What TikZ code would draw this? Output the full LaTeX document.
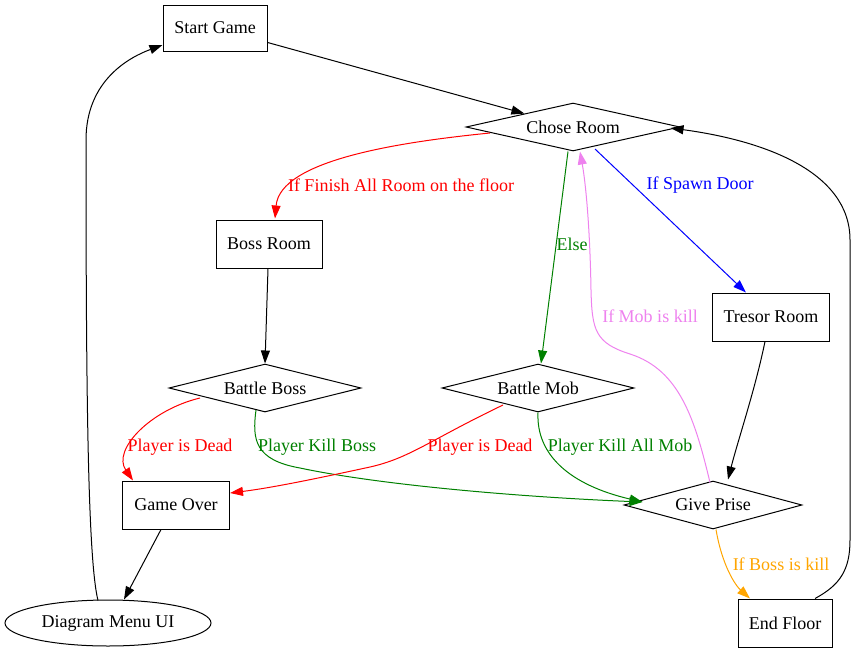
\documentclass[tikz,border=0pt]{standalone}
\usepackage{fontspec}
\setmainfont{Liberation Serif}
\usetikzlibrary{shapes.geometric,arrows.meta,calc}
\definecolor{gvgreen}{RGB}{0,128,0}
\definecolor{gvviolet}{RGB}{238,130,238}
\definecolor{gvorange}{RGB}{255,165,0}
\begin{document}
\begin{tikzpicture}[x=1pt,y=-1pt,
  every node/.style={font=\fontsize{18}{21}\selectfont},
  boxnode/.style={draw,line width=1pt,inner sep=0pt},
  dianode/.style={draw,line width=1pt,shape=diamond,inner sep=0pt,aspect=4.4},
  ellnode/.style={draw,line width=1pt,shape=ellipse,inner sep=0pt},
  edge/.style={line width=1pt,-{Triangle[length=13pt,width=9pt]}},
  lbl/.style={inner sep=1pt}]
\useasboundingbox (0,0) rectangle (856,653);
% nodes
\node[boxnode,minimum width=104pt,minimum height=46pt] (sg) at (215,28) {Start Game};
\node[dianode,minimum width=214pt,minimum height=48pt] (cr) at (573,127) {Chose Room};
\node[boxnode,minimum width=106pt,minimum height=48pt] (br) at (269,244) {Boss Room};
\node[boxnode,minimum width=117pt,minimum height=48pt] (tr) at (771,317) {Tresor Room};
\node[dianode,minimum width=192pt,minimum height=48pt] (bb) at (265,388) {Battle Boss};
\node[dianode,minimum width=192pt,minimum height=48pt] (bm) at (538,388) {Battle Mob};
\node[boxnode,minimum width=107pt,minimum height=48pt] (go) at (176,505) {Game Over};
\node[dianode,minimum width=178pt,minimum height=48pt] (gp) at (713,505) {Give Prise};
\node[ellnode,minimum width=206pt,minimum height=46pt] (dm) at (108,623) {Diagram Menu UI};
\node[boxnode,minimum width=94pt,minimum height=48pt] (ef) at (785,623) {End Floor};
% edges
\draw[edge] (sg) -- (cr);
\draw[edge,red] ($(cr)+(-83,6)$) .. controls (400,142) and (280,160) .. ($(br.north)+(6,-1)$);
\node[lbl,red] (l1) at (401,185) {If Finish All Room on the floor};
\draw[edge,gvgreen] ($(cr.south)+(-5,0)$) -- ($(bm.north)+(3,0)$);
\node[lbl,gvgreen] (l2) at (572,244) {Else};
\draw[edge,blue] ($(cr)+(22,22)$) -- ($(tr.north)+(-25,0)$);
\node[lbl,blue] (l3) at (700,185) {If Spawn Door};
\draw[edge] ($(br.south)+(-1,0)$) -- (bb.north);
\draw[edge,red] ($(bb)+(-65,10)$) .. controls (150,410) and (112,450) .. ($(go.north)+(-43,0)$);
\node[lbl,red] (l4) at (180,447) {Player is Dead};
\draw[edge,gvgreen] ($(bb)+(-9,22)$) .. controls (252,440) and (255,460) .. (300,468) .. controls (380,485) and (520,497) .. ($(gp.west)+(19,-3)$);
\node[lbl,gvgreen] (l5) at (317,447) {Player Kill Boss};
\draw[edge,red] ($(bm)+(-35,17)$) .. controls (430,440) and (410,458) .. (370,467) .. controls (310,480) and (270,488) .. ($(go.east)+(0,-12)$);
\node[lbl,red] (l6) at (480,447) {Player is Dead};
\draw[edge,gvgreen] (bm.south) .. controls (536,455) and (570,485) .. ($(gp.west)+(19,-3)$);
\node[lbl,gvgreen] (l7) at (620,447) {Player Kill All Mob};
\draw[edge] ($(tr.south)+(-6,0)$) .. controls (755,390) and (738,440) .. ($(gp.north)+(15,-1)$);
\draw[edge,gvviolet] ($(gp.north)+(-3,2)$) .. controls (695,420) and (680,370) .. (630,354) .. controls (595,343) and (592,330) .. (591,290) .. controls (590,230) and (586,185) .. ($(cr.south)+(7,0)$);
\node[lbl,gvviolet] (l8) at (650,316) {If Mob is kill};
\draw[edge,gvorange] ($(gp.south)+(3,0)$) .. controls (722,565) and (735,585) .. ($(ef.north)+(-35,0)$);
\node[lbl,gvorange] (l9) at (781,564) {If Boss is kill};
\draw[edge] ($(go.south)+(-15,0)$) -- ($(dm.north)+(16,0)$);
\draw[edge] ($(dm.north)+(-10,1)$) .. controls (88,560) and (86,400) .. (86,140) .. controls (86,80) and (130,57) .. ($(sg.west)+(0,17)$);
\draw[edge] ($(ef.north)+(30,0)$) .. controls (840,585) and (850,570) .. (850,540) -- (850,240) .. controls (850,170) and (760,140) .. ($(cr.east)+(-10,1)$);
\end{tikzpicture}
\end{document}
